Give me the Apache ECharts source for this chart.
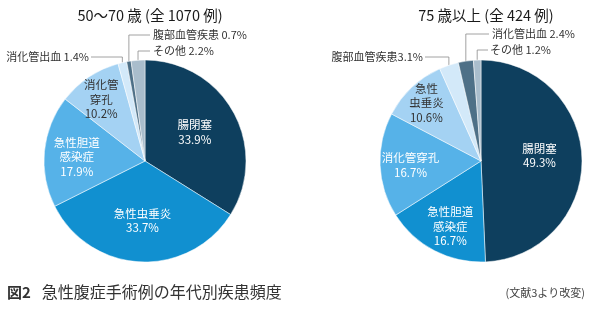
<!DOCTYPE html>
<html>
<head>
<meta charset="utf-8">
<script src="https://cdn.jsdelivr.net/npm/echarts@6/dist/echarts.min.js"></script>
<style>
html,body{margin:0;padding:0;background:#fff;}
#c{width:595px;height:327px;}
</style>
</head>
<body>
<div id="c"></div>
<script>
// ---- data ----
var leftTitle = '50〜70 歳 (全 1070 例)';
var rightTitle = '75 歳以上 (全 424 例)';
var leftNames = ['腸閉塞', '急性虫垂炎', '急性胆道感染症', '消化管穿孔', '消化管出血', '腹部血管疾患', 'その他'];
var leftLabelNames = ['腸閉塞', '急性虫垂炎', '急性胆道\n感染症', '消化管\n穿孔', '消化管出血', '腹部血管疾患', 'その他'];
var leftValues = [33.9, 33.7, 17.9, 10.2, 1.4, 0.7, 2.2];
var rightNames = ['腸閉塞', '急性胆道感染症', '消化管穿孔', '急性虫垂炎', '腹部血管疾患', '消化管出血', 'その他'];
var rightLabelNames = ['腸閉塞', '急性胆道\n感染症', '消化管穿孔', '急性\n虫垂炎', '腹部血管疾患', '消化管出血', 'その他'];
var rightValues = [49.3, 16.7, 16.7, 10.6, 3.1, 2.4, 1.2];
var captionFig = '図2';
var captionText = '急性腹症手術例の年代別疾患頻度';
var sourceText = '(文献3より改変)';

// ---- style ----
var sliceColors = ['#0e3f5e', '#1190d0', '#56b2e8', '#a4d2f3', '#d3e9f9', '#4e7087', '#a9bdcc'];
var insideTextColors = ['#fff', '#fff', '#fff', '#333'];
var FONT = '"Noto Sans CJK JP", "Noto Sans", sans-serif';

// label placement (styling only)
var leftLabelStyle = [
  {dx: 3, dy: -3}, {dx: 0, dy: 6}, {dx: -15, dy: 1}, {dx: -14, dy: -17},
  {x: 89, y: 57, align: 'right', lx: 91, sep: ' '},
  {x: 153, y: 35, align: 'left', lx: 150, sep: ' '},
  {x: 153, y: 51, align: 'left', lx: 150, sep: ' '}
];
var rightLabelStyle = [
  {dx: 5, dy: -4}, {dx: -6, dy: 18}, {dx: -17, dy: 2}, {dx: -18, dy: -19},
  {x: 423, y: 57, align: 'right', lx: 425, sep: ''},
  {x: 492, y: 34, align: 'left', lx: 489, sep: ' '},
  {x: 490, y: 50, align: 'left', lx: 488, sep: ' '}
];

function buildData(names, labelNames, values, styles) {
  return values.map(function (v, i) {
    var inside = i < 4;
    return {
      name: names[i],
      value: v,
      itemStyle: {color: sliceColors[i]},
      label: inside ? {
        position: 'inside',
        color: insideTextColors[i],
        fontSize: 11.5,
        formatter: labelNames[i] + '\n' + v.toFixed(1) + '%',
        lineHeight: 14.5
      } : {
        position: 'outside',
        color: '#333',
        formatter: labelNames[i] + styles[i].sep + v.toFixed(1) + '%'
      },
      labelLine: {show: !inside}
    };
  });
}

function makeLayout(styles) {
  return function (params) {
    var s = styles[params.dataIndex];
    if (s.dx !== undefined) {
      return {dx: s.dx, dy: s.dy};
    }
    var p0 = params.labelLinePoints ? params.labelLinePoints[0] : [s.lx, s.y];
    return {
      x: s.x, y: s.y, align: s.align, verticalAlign: 'middle',
      labelLinePoints: [[p0[0], p0[1]], [p0[0], s.y], [s.lx, s.y]]
    };
  };
}

function makeSeries(center, names, labelNames, values, styles) {
  return {
    type: 'pie',
    center: center,
    radius: [0, 101],
    startAngle: 90,
    clockwise: true,
    avoidLabelOverlap: false,
    animation: false,
    silent: true,
    itemStyle: {borderColor: '#fff', borderWidth: 0.5},
    label: {fontFamily: FONT, fontSize: 11},
    labelLine: {lineStyle: {color: '#8a8a8a', width: 0.8}, length: 10, length2: 10},
    labelLayout: makeLayout(styles),
    data: buildData(names, labelNames, values, styles)
  };
}

var chart = echarts.init(document.getElementById('c'), null, {renderer: 'canvas'});
chart.setOption({
  backgroundColor: '#fff',
  title: [
    {text: leftTitle, left: 145, top: 3, textAlign: 'center',
     textStyle: {fontFamily: FONT, fontSize: 14.5, fontWeight: 'normal', color: '#1a1a1a'}},
    {text: rightTitle, left: 481, top: 3, textAlign: 'center',
     textStyle: {fontFamily: FONT, fontSize: 14.5, fontWeight: 'normal', color: '#1a1a1a'}},
    {text: '{b|' + captionFig + '}{n|' + captionText + '}', left: 2, top: 279,
     textStyle: {rich: {
       b: {fontFamily: FONT, fontSize: 15, fontWeight: 'bold', color: '#333'},
       n: {fontFamily: FONT, fontSize: 16, fontWeight: 'normal', color: '#333', padding: [0, 0, 0, 11]}
     }}},
    {text: sourceText, right: 5, top: 282,
     textStyle: {fontFamily: FONT, fontSize: 11, fontWeight: 'normal', color: '#444'}}
  ],
  series: [
    makeSeries([145, 161], leftNames, leftLabelNames, leftValues, leftLabelStyle),
    makeSeries([481, 161], rightNames, rightLabelNames, rightValues, rightLabelStyle)
  ]
});
</script>
</body>
</html>
